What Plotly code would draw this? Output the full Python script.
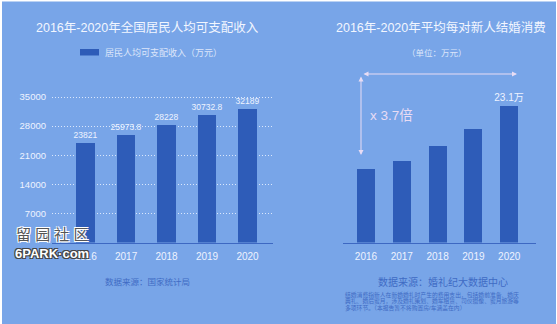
import plotly.graph_objects as go

W, H = 557, 324

# Per-capita disposable income (left panel)
years = ["2016", "2017", "2018", "2019", "2020"]
income = [23821, 25973.8, 28228, 30732.8, 32189]
income_labels = ["23821", "25973.8", "28228", "30732.8", "32189"]
income_ticks = [7000, 14000, 21000, 28000, 35000]

# Average wedding spending per couple, 10k yuan (right panel)
wedding = [12.4, 13.8, 16.3, 19.2, 23.1]
wedding_labels = ["", "", "", "", "23.1万"]

BG = "#78A5E8"
BAR = "#2E5CB8"
LIGHT = "#EEF3FF"
LAVENDER = "#E8DCF4"
SOURCE = "#3F6BC4"
FONT = "Liberation Sans, Noto Sans CJK SC, sans-serif"


def fx(px):
    return px / W


def fy(py):
    return 1 - py / H


fig = go.Figure()

fig.add_trace(go.Bar(
    x=list(range(len(years))), y=income, width=0.45,
    marker=dict(color=BAR, line=dict(width=0)),
    text=income_labels, textposition="outside", cliponaxis=False,
    constraintext="none",
    textfont=dict(family=FONT, size=8.5, color=LIGHT),
    xaxis="x", yaxis="y", showlegend=False, hoverinfo="skip",
))

fig.add_trace(go.Bar(
    x=list(range(len(years))), y=wedding, width=0.5,
    marker=dict(color=BAR, line=dict(width=0)),
    text=wedding_labels, textposition="outside", cliponaxis=False,
    constraintext="none",
    textfont=dict(family=FONT, size=10, color=LIGHT),
    xaxis="x2", yaxis="y2", showlegend=False, hoverinfo="skip",
))

y_dom = [fy(242.5), fy(80)]

fig.update_layout(
    width=W, height=H,
    margin=dict(l=0, r=0, t=0, b=0),
    paper_bgcolor="white", plot_bgcolor="rgba(0,0,0,0)",
    font=dict(family=FONT, color=LIGHT),
    xaxis=dict(
        domain=[fx(52), fx(273)], range=[-0.83, 4.63],
        tickmode="array", tickvals=list(range(len(years))), ticktext=years,
        tickfont=dict(size=10, color=LIGHT), ticklabelstandoff=4,
        showgrid=False, zeroline=False,
        showline=True, linecolor="#3D68C2", linewidth=1,
        ticks="", fixedrange=True,
    ),
    yaxis=dict(
        domain=y_dom, range=[0, 39090],
        tickmode="array", tickvals=income_ticks,
        ticktext=[str(v) for v in income_ticks],
        tickfont=dict(size=9.5, color=LIGHT), ticklabelstandoff=5,
        showgrid=True, gridcolor="rgba(235,242,255,0.85)", griddash="1px,2px",
        gridwidth=1, zeroline=False, showline=False, ticks="",
    ),
    xaxis2=dict(
        domain=[fx(343), fx(536)], range=[-0.642, 4.749], anchor="y2",
        tickmode="array", tickvals=list(range(len(years))), ticktext=years,
        tickfont=dict(size=10, color=LIGHT), ticklabelstandoff=4,
        showgrid=False, zeroline=False,
        showline=True, linecolor="#3D68C2", linewidth=1, ticks="",
    ),
    yaxis2=dict(
        domain=y_dom, range=[0, 27.4], anchor="x2",
        showgrid=False, zeroline=False, showline=False,
        showticklabels=False, ticks="",
    ),
    bargap=0,
)

# Blue panel with a thin white edge
fig.add_shape(type="rect", xref="paper", yref="paper",
              x0=fx(2), x1=fx(556), y0=0, y1=fy(1.5),
              fillcolor=BG, line=dict(width=0), layer="below")

# Legend swatch for the left panel
fig.add_shape(type="rect", xref="paper", yref="paper",
              x0=fx(80), x1=fx(99), y0=fy(55.5), y1=fy(49),
              fillcolor=BAR, line=dict(width=0))


def text(s, x, y, size, color, xanchor="center", **kw):
    fig.add_annotation(text=s, x=fx(x), y=fy(y), xref="paper", yref="paper",
                       showarrow=False, xanchor=xanchor, yanchor="middle",
                       font=dict(family=FONT, size=size, color=color, **kw))


text("2016年-2020年全国居民人均可支配收入", 147, 27, 12.5, "#F2F6FF")
text("居民人均可支配收入（万元）", 103, 52, 9, "#DCE5FA", xanchor="left")
text("数据来源：国家统计局", 147, 282, 8.5, SOURCE)

text("2016年-2020年平均每对新人结婚消费", 441, 27, 12.5, "#F2F6FF")
text("（单位：万元）", 437, 53, 8.5, "#DCE5FA")
text("x 3.7倍", 368, 115, 13.5, LAVENDER, xanchor="left")
text("数据来源：婚礼纪大数据中心", 443, 282, 10, SOURCE)
notes = [
    "结婚消费指新人在新婚婚礼时产生的费用支出，包括婚前准备、婚庆",
    "典礼、婚后蜜月，涉及婚礼策划、婚车租赁、司仪摄像、蜜月旅游等",
    "多项环节。（本报告暂不将购置房/车涵盖在内）",
]
for i, line in enumerate(notes):
    text(line, 343, 294.5 + i * 6.8, 5.8, SOURCE, xanchor="left")

# Growth arrows
fig.add_annotation(x=fx(517), y=fy(74), xref="paper", yref="paper",
                   ax=-155, ay=0, axref="pixel", ayref="pixel",
                   showarrow=True, arrowside="end+start", arrowhead=2,
                   arrowsize=1, arrowwidth=1, arrowcolor=LAVENDER, text="")
fig.add_annotation(x=fx(361), y=fy(155), xref="paper", yref="paper",
                   ax=0, ay=-80, axref="pixel", ayref="pixel",
                   showarrow=True, arrowside="end+start", arrowhead=2,
                   arrowsize=1, arrowwidth=1, arrowcolor=LAVENDER, text="")

# Site watermark, sitting over the first year label
text("留 园 社 区", 52, 234, 15, "#555555",
     shadow="1px 1px 0 #ffffff, -1px -1px 0 #ffffff, 1px -1px 0 #ffffff, -1px 1px 0 #ffffff")
text("6PARK·com", 52, 253, 13, "#ffffff", weight="bold",
     shadow="1px 1px 0 #444, -1px -1px 0 #444, 1px -1px 0 #444, -1px 1px 0 #444")

fig.write_html("out.html")
